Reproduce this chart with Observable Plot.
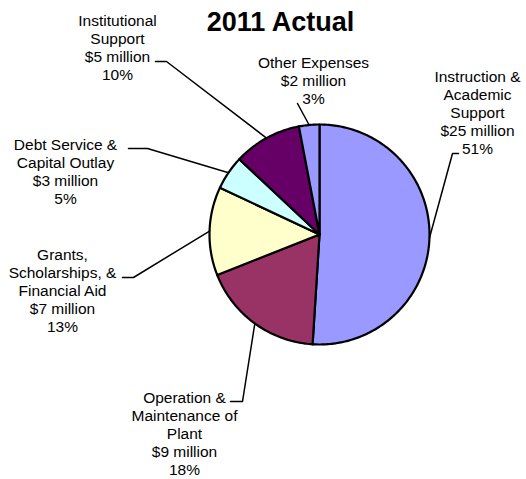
<!DOCTYPE html>
<html>
<head>
<meta charset="utf-8">
<script src="https://cdn.jsdelivr.net/npm/d3@7"></script>
<script src="https://cdn.jsdelivr.net/npm/@observablehq/plot@0.6"></script>
<style>
  html, body { margin: 0; padding: 0; background: #fff; }
</style>
</head>
<body>
<div id="chart"></div>
<script>
// ---- data ----
const title = "2011 Actual";
const categories = [
  "Instruction &\nAcademic\nSupport",
  "Operation &\nMaintenance of\nPlant",
  "Grants,\nScholarships, &\nFinancial Aid",
  "Debt Service &\nCapital Outlay",
  "Institutional\nSupport",
  "Other Expenses"
];
const millions = [25, 9, 7, 3, 5, 2];
const percents = [51, 18, 13, 5, 10, 3];

// ---- styles / layout ----
const colors = ["#9999FF", "#993366", "#FFFFCC", "#CCFFFF", "#660066", "#9999FF"];
const W = 526, H = 479;
const cx = 319, cy = 234, R = 110;
// label block centre (x, y) and leader elbow: [outer x, inner x, y]
const labelLayout = [
  {lx: 477, ly: 112, elbow: [458, 452, 153]},
  {lx: 184, ly: 433, elbow: [230, 242, 401]},
  {lx: 62,  ly: 290, elbow: [122, 133, 277]},
  {lx: 65,  ly: 171, elbow: [128, 147, 148]},
  {lx: 117, ly: 47,  elbow: [155, 166, 61]},
  {lx: 313, ly: 80,  elbow: [297, 297, 103]}
];

const rows = categories.map((c, i) => ({
  name: c, value: millions[i], pct: percents[i], color: colors[i],
  label: `${c}\n$${millions[i]} million\n${percents[i]}%`
}));

const arcs = d3.pie().sort(null).value(d => d.pct).startAngle(0).endAngle(2 * Math.PI)(rows);
const pt = (a, r) => ({x: cx + r * Math.sin(a), y: cy - r * Math.cos(a)});

const marks = [];
arcs.forEach((a, i) => {
  const pts = [{x: cx, y: cy}];
  const n = Math.max(2, Math.ceil((a.endAngle - a.startAngle) / (Math.PI / 180)));
  for (let k = 0; k <= n; k++) {
    pts.push(pt(a.startAngle + (a.endAngle - a.startAngle) * k / n, R));
  }
  marks.push(Plot.line(pts, {x: "x", y: "y", curve: "linear-closed",
    fill: a.data.color, stroke: "black", strokeWidth: 2.2, strokeLinejoin: "round"}));
});

// leader lines
arcs.forEach((a, i) => {
  const L = labelLayout[i];
  const mid = (a.startAngle + a.endAngle) / 2;
  const end = pt(mid, R);
  const pts = [{x: L.elbow[0], y: L.elbow[2]}, {x: L.elbow[1], y: L.elbow[2]}, end];
  marks.push(Plot.line(pts, {x: "x", y: "y", stroke: "black", strokeWidth: 1.5}));
});

// labels
marks.push(Plot.text(rows.map((r, i) => ({...r, lx: labelLayout[i].lx, ly: labelLayout[i].ly})), {
  x: "lx", y: "ly", text: "label", fontSize: 15.5, lineHeight: 18 / 15.5,
  textAnchor: "middle", lineAnchor: "middle", fill: "black"
}));

// title
marks.push(Plot.text([title], {x: () => 280, y: () => 22, text: d => d,
  fontSize: 27, fontWeight: "bold", fill: "black", lineAnchor: "middle"}));

const chart = Plot.plot({
  width: W, height: H,
  margin: 0,
  x: {domain: [0, W], range: [0, W], axis: null},
  y: {domain: [0, H], range: [0, H], axis: null},
  style: {fontFamily: "'Liberation Sans', Arial, sans-serif", background: "#fff", color: "black"},
  marks
});
document.getElementById("chart").appendChild(chart);
</script>
</body>
</html>
